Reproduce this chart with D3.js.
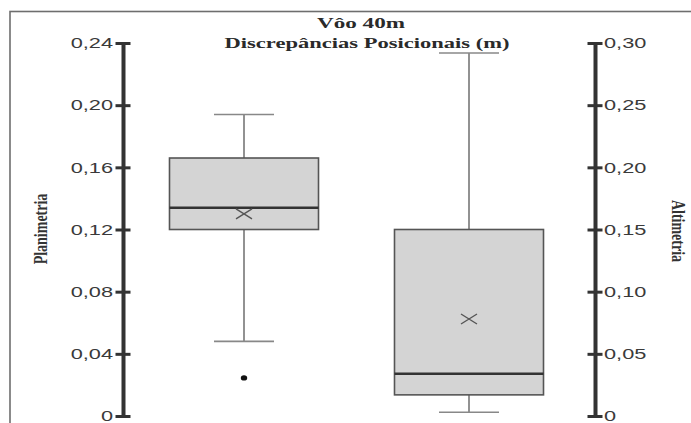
<!DOCTYPE html>
<html>
<head>
<meta charset="utf-8">
<script src="https://cdn.jsdelivr.net/npm/d3@7"></script>
<style>
  html, body { margin: 0; padding: 0; background: #fff; }
  svg { display: block; }
</style>
</head>
<body>
<svg id="chart" width="691" height="423"></svg>
<script>
// Box-plot summaries for the two measurement groups
const categories = ["Planimetria", "Altimetria"];
const whiskerLow = [0.048, 0.003];
const q1 = [0.120, 0.017];
const median = [0.134, 0.034];
const q3 = [0.166, 0.150];
const whiskerHigh = [0.194, 0.292];
const means = [0.130, 0.078];
const outliers = [[0.0245], []];

// Axis ticks
const leftTickValues = [0, 0.04, 0.08, 0.12, 0.16, 0.20, 0.24];
const leftTickLabels = ["0", "0,04", "0,08", "0,12", "0,16", "0,20", "0,24"];
const rightTickValues = [0, 0.05, 0.10, 0.15, 0.20, 0.25, 0.30];
const rightTickLabels = ["0", "0,05", "0,10", "0,15", "0,20", "0,25", "0,30"];

const titleLines = ["Vôo 40m", "Discrepâncias Posicionais (m)"];

const svg = d3.select("#chart");
const W = 691, H = 423;

// Outer frame (runs off the right and bottom edges)
svg.append("rect")
  .attr("x", 10).attr("y", 11.5)
  .attr("width", 720).attr("height", 500)
  .attr("fill", "#fff")
  .attr("stroke", "#6e6e6e").attr("stroke-width", 1.6);

const yLeft = d3.scaleLinear().domain([0, 0.24]).range([416, 43]);
const yRight = d3.scaleLinear().domain([0, 0.30]).range([416, 43]);
const yScales = [yLeft, yRight];
const x = d3.scalePoint().domain(categories).range([244, 469]);

const boxW = 149, capW = 60;
const sx = 1.45; // wide-set glyphs for labels

function widen(sel, factor) {
  sel.each(function () {
    const len = this.getComputedTextLength();
    d3.select(this).attr("textLength", len * factor).attr("lengthAdjust", "spacingAndGlyphs");
  });
}

function styleAxis(g, side) {
  g.select(".domain").attr("stroke", "#333").attr("stroke-width", 4);
  g.selectAll(".tick line")
    .attr("x1", -7.5).attr("x2", 7.5)
    .attr("stroke", "#333").attr("stroke-width", 3);
  g.selectAll(".tick text")
    .attr("x", side === "left" ? -10 : 9)
    .attr("fill", "#3a3a3a")
    .style("font-family", "'Liberation Sans', Arial, sans-serif")
    .style("font-size", "15px")
    .call(widen, sx);
}

const gl = svg.append("g").attr("transform", "translate(123,0)")
  .call(d3.axisLeft(yLeft).tickValues(leftTickValues)
    .tickFormat((d, i) => leftTickLabels[i]).tickSizeOuter(0));
styleAxis(gl, "left");

const gr = svg.append("g").attr("transform", "translate(595,0)")
  .call(d3.axisRight(yRight).tickValues(rightTickValues)
    .tickFormat((d, i) => rightTickLabels[i]).tickSizeOuter(0));
styleAxis(gr, "right");

// Boxes
categories.forEach((c, i) => {
  const y = yScales[i];
  const cx = x(c);
  const g = svg.append("g");
  // whiskers
  g.append("line").attr("x1", cx).attr("x2", cx)
    .attr("y1", y(whiskerHigh[i])).attr("y2", y(q3[i]))
    .attr("stroke", "#777").attr("stroke-width", 1.6);
  g.append("line").attr("x1", cx).attr("x2", cx)
    .attr("y1", y(q1[i])).attr("y2", y(whiskerLow[i]))
    .attr("stroke", "#777").attr("stroke-width", 1.6);
  [whiskerHigh[i], whiskerLow[i]].forEach(v => {
    g.append("line").attr("x1", cx - capW / 2).attr("x2", cx + capW / 2)
      .attr("y1", y(v)).attr("y2", y(v))
      .attr("stroke", "#888").attr("stroke-width", 1.6);
  });
  // box
  g.append("rect")
    .attr("x", cx - boxW / 2).attr("width", boxW)
    .attr("y", y(q3[i])).attr("height", y(q1[i]) - y(q3[i]))
    .attr("fill", "#d4d4d4").attr("stroke", "#555").attr("stroke-width", 1.6);
  // median
  g.append("line").attr("x1", cx - boxW / 2).attr("x2", cx + boxW / 2)
    .attr("y1", y(median[i])).attr("y2", y(median[i]))
    .attr("stroke", "#333").attr("stroke-width", 2.6);
  // mean marker
  const my = y(means[i]);
  g.append("path")
    .attr("d", `M${cx - 8},${my - 5}L${cx + 8},${my + 5}M${cx - 8},${my + 5}L${cx + 8},${my - 5}`)
    .attr("stroke", "#555").attr("stroke-width", 1.4).attr("fill", "none");
  // outliers
  outliers[i].forEach(v => {
    g.append("ellipse").attr("cx", cx).attr("cy", y(v))
      .attr("rx", 3.2).attr("ry", 2.6).attr("fill", "#111");
  });
});

// Title
const serif = "'Liberation Serif', 'Times New Roman', serif";
svg.append("text").text(titleLines[0])
  .attr("x", 361).attr("y", 28).attr("text-anchor", "middle")
  .style("font-family", serif).style("font-weight", "bold").style("font-size", "15px")
  .attr("fill", "#2a2a2a")
  .attr("textLength", 88).attr("lengthAdjust", "spacingAndGlyphs");
svg.append("text").text(titleLines[1])
  .attr("x", 367).attr("y", 48).attr("text-anchor", "middle")
  .style("font-family", serif).style("font-weight", "bold").style("font-size", "15px")
  .attr("fill", "#2a2a2a")
  .attr("textLength", 285).attr("lengthAdjust", "spacingAndGlyphs");

// Axis names
svg.append("text").text(categories[0])
  .attr("transform", `translate(47,229) scale(1.35,1) rotate(-90)`)
  .attr("text-anchor", "middle")
  .style("font-family", serif).style("font-weight", "bold").style("font-size", "14px")
  .attr("fill", "#333");
svg.append("text").text(categories[1])
  .attr("transform", `translate(672,231) scale(1.35,1) rotate(90)`)
  .attr("text-anchor", "middle")
  .style("font-family", serif).style("font-weight", "bold").style("font-size", "14px")
  .attr("fill", "#333");
</script>
</body>
</html>
